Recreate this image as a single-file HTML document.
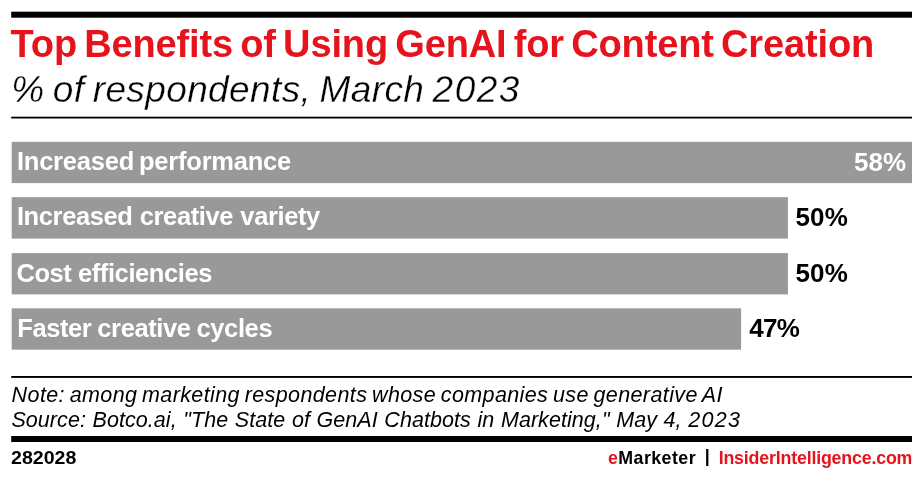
<!DOCTYPE html>
<html lang="en">
<head>
<meta charset="utf-8">
<title>Top Benefits of Using GenAI for Content Creation</title>
<style>
  html, body { margin: 0; padding: 0; background: #ffffff; }
  body { width: 922px; height: 478px; position: relative; overflow: hidden;
         font-family: "Liberation Sans", sans-serif; color: #000; }
  .abs { position: absolute; white-space: nowrap; line-height: 1; }
  .lbl { position: absolute; color: #fff; font-weight: bold; font-size: 25.5px;
         line-height: 1; white-space: nowrap; }
  .val { position: absolute; font-weight: bold; font-size: 26px; line-height: 1; white-space: nowrap; }
  .note { position: absolute; white-space: nowrap; line-height: 1; font-size: 21.5px; font-style: italic; }
  .foot { position: absolute; white-space: nowrap; line-height: 1; font-size: 17.8px; font-weight: bold; top: 450px; }
  .red { color: #e6131c; }
</style>
</head>
<body>
  <svg id="gfx" width="922" height="478" viewBox="0 0 922 478" style="position:absolute;left:0;top:0;" shape-rendering="geometricPrecision">
    <rect id="topbar" x="11.2" y="11.7" width="900.8" height="6" fill="#000"/>
    <rect id="rule1" x="11.2" y="116.7" width="900.8" height="1.8" fill="#000"/>
    <rect id="bar1" x="11.7" y="141.8" width="900.3" height="41.3" fill="#999999"/>
    <rect id="bar2" x="11.7" y="197.2" width="776.2" height="41.4" fill="#999999"/>
    <rect id="bar3" x="11.7" y="253.1" width="776.2" height="41.3" fill="#999999"/>
    <rect id="bar4" x="11.7" y="308.3" width="729.4" height="41.4" fill="#999999"/>
    <rect id="rule2" x="11.2" y="376" width="900.8" height="1.9" fill="#000"/>
    <rect id="botbar" x="11.2" y="436" width="900.8" height="6" fill="#000"/>
  </svg>

  <div class="abs red" id="title" style="left:10.56px;top:25px;font-size:38px;font-weight:bold;letter-spacing:-0.135px;word-spacing:-3.18px;">Top Benefits of Using GenAI for Content Creation</div>
  <div class="abs" id="subtitle" style="-webkit-text-stroke:0.35px #fff;left:11.15px;top:71px;font-size:37px;font-style:italic;letter-spacing:0.383px;word-spacing:-2.34px;">% of respondents, March <span style="letter-spacing:1.5px;">2023</span></div>



  <div class="lbl" id="l1" style="left:16.93px;top:149px;letter-spacing:-0.222px;word-spacing:-1.87px;">Increased performance</div>
  <div class="lbl" id="l2" style="left:16.89px;top:204px;letter-spacing:-0.378px;word-spacing:0.5px;">Increased creative variety</div>
  <div class="lbl" id="l3" style="left:16.38px;top:261px;letter-spacing:-0.408px;word-spacing:-0.1px;">Cost efficiencies</div>
  <div class="lbl" id="l4" style="left:17.22px;top:316px;letter-spacing:-0.392px;word-spacing:-0.77px;">Faster creative cycles</div>

  <div class="val" id="v1" style="left:853.96px;top:149px;color:#fff;letter-spacing:0.075px;">58%</div>
  <div class="val" id="v2" style="left:795.41px;top:204px;letter-spacing:0.225px;">50%</div>
  <div class="val" id="v3" style="left:795.41px;top:260px;letter-spacing:0.225px;">50%</div>
  <div class="val" id="v4" style="left:749.28px;top:315px;letter-spacing:-0.684px;">47%</div>


  <div class="note" id="note1" style="left:11.61px;top:385px;letter-spacing:0.393px;word-spacing:-1.69px;">Note: among marketing respondents whose companies use generative AI</div>
  <div class="note" id="note2" style="left:11.43px;top:410px;letter-spacing:0.06px;word-spacing:0.55px;">Source: Botco.ai, "The State of GenAI Chatbots in Marketing," May 4, <span style="letter-spacing:1.3px;">2023</span></div>


  <div class="foot" id="code" style="left:11.1px;transform:scaleX(1.102);transform-origin:0 0;">282028</div>
  <div class="foot" id="em" style="left:607.97px;letter-spacing:0.446px;"><span class="red">e</span>Marketer</div>
  <div class="foot" id="pipe" style="left:704.7px;top:448px;">|</div>
  <div class="foot red" id="ii" style="left:718.66px;letter-spacing:-0.176px;">InsiderIntelligence.com</div>
</body>
</html>
